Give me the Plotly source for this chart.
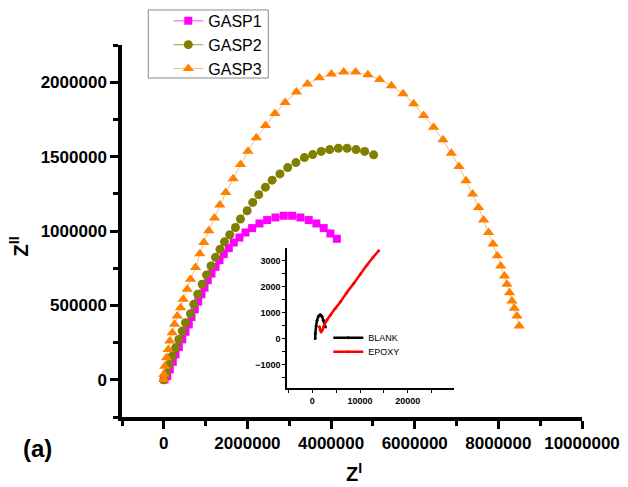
import plotly.graph_objects as go

# ---------------- data ----------------
gasp1_x = [15000, 81200, 143400, 215100, 279600, 358400, 439700, 518500, 597400, 661900,
           740700, 822000, 900800, 972500, 1051400, 1139800, 1235400, 1330900, 1433700, 1553200,
           1672700, 1808800, 1952200, 2112300, 2286800, 2470700, 2669100, 2867400, 3068100, 3266400,
           3464800, 3648800, 3823200, 3983300, 4138600]
gasp1_y = [2000, 24300, 69400, 120600, 170500, 219700, 271600, 322800, 372700, 421900,
           473800, 525000, 574800, 619300, 669200, 713700, 758800, 804000, 844400, 884800,
           922600, 956300, 990000, 1019600, 1050600, 1073500, 1091000, 1102500, 1102500, 1091000,
           1073500, 1050600, 1019600, 983200, 947500]

gasp2_x = [0, 64500, 119500, 200700, 279600, 358400, 439700, 518500, 638000, 716900,
           812400, 917600, 1020300, 1127800, 1235400, 1342900, 1450400, 1577100, 1713300, 1832700,
           1992800, 2126700, 2270000, 2430100, 2590200, 2776600, 2963000, 3158900, 3362000, 3560400,
           3763500, 3966600, 4174500, 4382300, 4597400, 4802900, 5018000]
gasp2_y = [0, 46500, 103100, 159000, 215000, 271600, 327500, 383500, 444100, 507400,
           574800, 642200, 704900, 765500, 822800, 876700, 927300, 974500, 1023600, 1080300,
           1136200, 1192100, 1244000, 1294600, 1341700, 1383500, 1426000, 1459700, 1493400, 1513600,
           1535100, 1547300, 1556000, 1556000, 1547300, 1535100, 1511600]

gasp3_x = [0, 0, 23900, 64500, 105100, 143400, 200700, 255700, 320200, 399000,
           463600, 559100, 638000, 757500, 860200, 955800, 1075300, 1211500, 1338100, 1481500,
           1658300, 1832700, 2012000, 2210300, 2430100, 2657100, 2900900, 3170900, 3433700, 3720500,
           4007200, 4301100, 4587800, 4879400, 5161300, 5440900, 5720500, 5973800, 6212700, 6451700,
           6676300, 6874600, 7058600, 7225800, 7383600, 7526900, 7646400, 7765900, 7871000, 7973800,
           8057400, 8145800, 8205600, 8267700, 8325100, 8380000, 8444500, 8499500]
gasp3_y = [2000, 35700, 91700, 147600, 204200, 260100, 316100, 372700, 428600, 484500,
           541100, 608500, 675900, 754100, 846400, 922600, 1001400, 1087000, 1174600, 1259500,
           1351800, 1446200, 1535800, 1626100, 1709000, 1789900, 1864000, 1933400, 1987300, 2029100,
           2054700, 2068200, 2068200, 2049300, 2017700, 1976600, 1922600, 1855200, 1776400, 1697600,
           1612600, 1522300, 1432700, 1338400, 1248700, 1158400, 1073500, 990000, 911800, 832900,
           765500, 698200, 642200, 585600, 529700, 480500, 428600, 361200]

blank_x = [600, 650, 800, 1000, 1300, 1650, 2000, 2300, 2550, 2750]
blank_y = [0, 200, 480, 700, 850, 910, 850, 700, 560, 440]

epoxy_x = [1500, 1650, 1850, 2100, 2500, 3100, 3800, 4800, 5900, 7200, 8700, 10100, 11500, 12700, 13900]
epoxy_y = [450, 330, 250, 330, 520, 720, 900, 1150, 1410, 1760, 2120, 2480, 2830, 3110, 3370]

names_main = ["GASP1", "GASP2", "GASP3"]
names_inset = ["BLANK", "EPOXY"]

# ---------------- layout helpers ----------------
W, H = 628, 487
PL, PR, PT, PB = 121.7, 581.7, 45.0, 416.7


def px_x(p):
    return (p - PL) / (PR - PL)


def px_y(p):
    return (PB - p) / (PB - PT)


FONT = "Liberation Sans, Arial, sans-serif"

fig = go.Figure()

fig.add_trace(go.Scatter(x=gasp1_x, y=gasp1_y, name=names_main[0], mode="lines+markers",
                         line=dict(color="#ff40ff", width=1),
                         marker=dict(symbol="square", size=8, color="#ff00ff", line=dict(width=0)),
                         legend="legend"))
fig.add_trace(go.Scatter(x=gasp2_x, y=gasp2_y, name=names_main[1], mode="lines+markers",
                         line=dict(color="#a0a040", width=1),
                         marker=dict(symbol="circle", size=9, color="#7f7f00", line=dict(width=0)),
                         legend="legend"))
fig.add_trace(go.Scatter(x=gasp3_x, y=gasp3_y, name=names_main[2], mode="lines+markers",
                         line=dict(color="#f2c080", width=1),
                         marker=dict(symbol="triangle-up", size=10, color="#ff8000", line=dict(width=0)),
                         legend="legend"))

fig.add_trace(go.Scatter(x=blank_x, y=blank_y, name=names_inset[0], mode="lines+markers",
                         line=dict(color="black", width=2.5, shape="spline"),
                         marker=dict(size=3, color="black"),
                         xaxis="x2", yaxis="y2", legend="legend2"))
fig.add_trace(go.Scatter(x=epoxy_x, y=epoxy_y, name=names_inset[1], mode="lines+markers",
                         line=dict(color="#ff0000", width=2.5, shape="spline"),
                         marker=dict(size=3, color="#ff0000"),
                         xaxis="x2", yaxis="y2", legend="legend3"))

axis_common = dict(showgrid=False, zeroline=False, showline=True, linecolor="black",
                   ticks="outside", tickcolor="black", tickformat="d")

fig.update_layout(
    width=W, height=H,
    margin=dict(l=PL, r=W - PR, t=PT, b=H - PB, autoexpand=False),
    paper_bgcolor="white", plot_bgcolor="white",
    font=dict(family=FONT, color="black"),
    xaxis=dict(**axis_common, range=[-1e6, 1e7], dtick=2e6, tick0=0,
               linewidth=3.5, tickwidth=3, ticklen=8,
               minor=dict(dtick=1e6, tick0=0, ticks="outside", ticklen=5, tickwidth=3, tickcolor="black"),
               tickfont=dict(family=FONT, size=17, color="black", weight="bold")),
    yaxis=dict(**axis_common, range=[-250000, 2250000], dtick=500000, tick0=0,
               linewidth=3.5, tickwidth=3, ticklen=8,
               minor=dict(dtick=250000, tick0=0, ticks="outside", ticklen=5, tickwidth=3, tickcolor="black"),
               tickfont=dict(family=FONT, size=17, color="black", weight="bold")),
    xaxis2=dict(**axis_common, domain=[px_x(286.7), px_x(453.3)], anchor="y2",
                range=[-5300, 29600], dtick=10000, tick0=0,
                linewidth=1.5, tickwidth=1.2, ticklen=3,
                minor=dict(dtick=5000, tick0=0, ticks="outside", ticklen=3, tickwidth=1.2, tickcolor="black"),
                tickfont=dict(family=FONT, size=9, color="black", weight="bold")),
    yaxis2=dict(**axis_common, domain=[px_y(387.7), px_y(248)], anchor="x2",
                range=[-1900, 3470], dtick=1000, tick0=0,
                linewidth=1.5, tickwidth=1.2, ticklen=3,
                minor=dict(dtick=500, tick0=0, ticks="outside", ticklen=3, tickwidth=1.2, tickcolor="black"),
                tickfont=dict(family=FONT, size=9, color="black", weight="bold")),
    legend=dict(x=px_x(168), y=px_y(4), xanchor="left", yanchor="top",
                bgcolor="rgba(0,0,0,0)", borderwidth=0,
                font=dict(family=FONT, size=16, color="black")),
    legend2=dict(x=px_x(328), y=px_y(323), xanchor="left", yanchor="top",
                 bgcolor="rgba(0,0,0,0)", borderwidth=0,
                 font=dict(family=FONT, size=9, color="black")),
    legend3=dict(x=px_x(328), y=px_y(337), xanchor="left", yanchor="top",
                 bgcolor="rgba(0,0,0,0)", borderwidth=0,
                 font=dict(family=FONT, size=9, color="black")),
    shapes=[dict(type="rect", xref="paper", yref="paper",
                 x0=px_x(148), x1=px_x(268), y0=px_y(78), y1=px_y(10),
                 line=dict(color="#8a8a8a", width=1), fillcolor="rgba(0,0,0,0)")],
    annotations=[
        dict(text="Z<sup>I</sup>", xref="paper", yref="paper", x=px_x(354), y=px_y(472),
             xanchor="center", yanchor="middle", showarrow=False,
             font=dict(family=FONT, size=20, color="black", weight="bold")),
        dict(text="Z<sup>II</sup>", xref="paper", yref="paper", x=px_x(18), y=px_y(246),
             xanchor="center", yanchor="middle", showarrow=False, textangle=-90,
             font=dict(family=FONT, size=20, color="black", weight="bold")),
        dict(text="(a)", xref="paper", yref="paper", x=px_x(37.5), y=px_y(448),
             xanchor="center", yanchor="middle", showarrow=False,
             font=dict(family=FONT, size=24, color="black", weight="bold")),
    ],
)

fig.write_html("out.html")
